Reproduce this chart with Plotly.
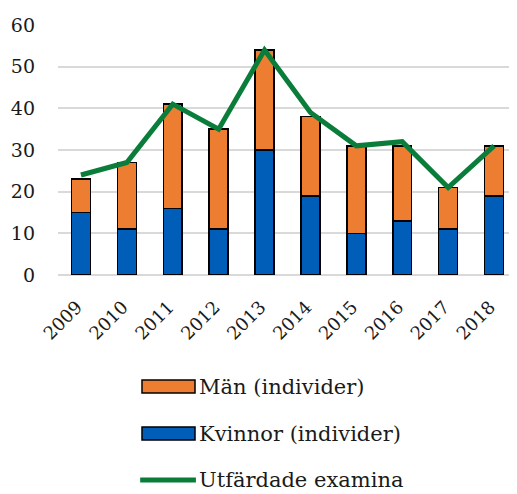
import plotly.graph_objects as go

years = ["2009", "2010", "2011", "2012", "2013", "2014", "2015", "2016", "2017", "2018"]
kvinnor = [15, 11, 16, 11, 30, 19, 10, 13, 11, 19]
totals = [23, 27, 41, 35, 54, 38, 31, 31, 21, 31]
man = [t - k for t, k in zip(totals, kvinnor)]
examina = [24, 27, 41, 35, 54, 39, 31, 32, 21, 31]
y_ticks = [0, 10, 20, 30, 40, 50, 60]

FONT = "DejaVu Serif"
C_BLUE, C_ORANGE, C_GREEN = "#005DB8", "#ED7D31", "#0B7D3A"

fig = go.Figure()
fig.add_trace(go.Bar(x=years, y=kvinnor, name="Kvinnor (individer)",
                     marker=dict(color=C_BLUE, line=dict(color="black", width=1.5)),
                     showlegend=False))
fig.add_trace(go.Bar(x=years, y=man, name="Män (individer)",
                     marker=dict(color=C_ORANGE, line=dict(color="black", width=1.5)),
                     showlegend=False))
fig.add_trace(go.Scatter(x=years, y=examina, name="Utfärdade examina", mode="lines",
                         line=dict(color=C_GREEN, width=5), showlegend=False))

# custom legend (paper coordinates relative to the plot area)
legend_items = [
    ("Män (individer)", "rect", C_ORANGE, -0.446),
    ("Kvinnor (individer)", "rect", C_BLUE, -0.634),
    ("Utfärdade examina", "line", C_GREEN, -0.82),
]
x0, x1, xt = 0.183, 0.2985, 0.302
half_h = 0.026
for label, kind, color, yc in legend_items:
    if kind == "rect":
        fig.add_shape(type="rect", xref="paper", yref="paper", x0=x0, x1=x1,
                      y0=yc - half_h, y1=yc + half_h, fillcolor=color,
                      line=dict(color="black", width=1.5))
    else:
        fig.add_shape(type="line", xref="paper", yref="paper", x0=x0 - 0.004, x1=x1 + 0.002,
                      y0=yc, y1=yc, line=dict(color=color, width=5))
    fig.add_annotation(text=label, xref="paper", yref="paper", x=xt, y=yc,
                       xanchor="left", yanchor="middle", showarrow=False,
                       font=dict(family=FONT, size=21, color="#1a1a1a"))

fig.update_layout(
    width=509, height=494,
    margin=dict(l=50, r=0, t=17, b=227, autoexpand=False),
    barmode="stack", bargap=0.59,
    plot_bgcolor="white", paper_bgcolor="white",
    font=dict(family=FONT, size=19, color="#1a1a1a"),
    showlegend=False,
    xaxis=dict(tickangle=-45, showgrid=False, showline=False, ticks="",
               tickfont=dict(size=18, family=FONT), automargin=False,
               ticklabelstandoff=17, ticklabelshift=-4),
    yaxis=dict(range=[0, 60], tickvals=y_ticks, showgrid=True, gridcolor="#D9D9D9",
               gridwidth=1.5, zeroline=True, zerolinecolor="#D9D9D9", zerolinewidth=1.5,
               ticks="", tickfont=dict(size=19, family=FONT), ticklabelstandoff=22,
               automargin=False),
)

fig.write_html("out.html")
